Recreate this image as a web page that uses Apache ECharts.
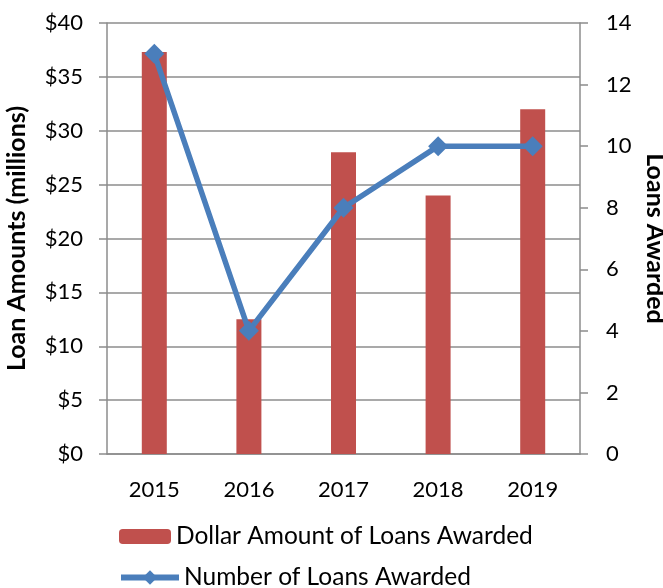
<!DOCTYPE html>
<html>
<head>
<meta charset="utf-8">
<script src="https://cdn.jsdelivr.net/npm/echarts@6/dist/echarts.min.js"></script>
<style>
  html, body { margin: 0; padding: 0; background: #fff; }
  #main { width: 663px; height: 588px; }
</style>
</head>
<body>
<div id="main"></div>
<script>
// data
var years = ['2015', '2016', '2017', '2018', '2019'];
var dollarAmounts = [37.3, 12.5, 28, 24, 32];   // millions
var loanCounts = [13, 4, 8, 10, 10];
var barName = 'Dollar Amount of Loans Awarded';
var lineName = 'Number of Loans Awarded';

var chart = echarts.init(document.getElementById('main'));

var font = 'Lato, "Liberation Sans", sans-serif';
var gridColor = '#8c8c8c';
var blue = '#4A7EBB';
var legendText = { fontSize: 24.5, color: '#000', fontFamily: font };

var option = {
    animation: false,
    textStyle: { fontFamily: font, color: '#000' },
    grid: { left: 107, right: 83, top: 23, bottom: 134, outerBoundsMode: 'none', containLabel: false },
    legend: [
        {
            left: 114, top: 519,
            itemWidth: 52, itemHeight: 15,
            textStyle: legendText,
            data: [barName]
        },
        {
            left: 113, top: 560,
            itemWidth: 58, itemHeight: 18,
            textStyle: legendText,
            lineStyle: { width: 6 },
            data: [lineName]
        }
    ],
    xAxis: {
        type: 'category',
        data: years,
        axisLine: { lineStyle: { color: gridColor, width: 1.5 } },
        axisTick: { show: false },
        axisLabel: { fontSize: 22, color: '#000', margin: 25 }
    },
    yAxis: [
        {
            type: 'value',
            min: 0, max: 40, interval: 5,
            name: 'Loan Amounts (millions)',
            nameLocation: 'middle',
            nameRotate: 90,
            nameGap: 78,
            nameTextStyle: { fontSize: 25, fontWeight: 'bold', color: '#000' },
            axisLine: { show: true, lineStyle: { color: gridColor, width: 1.5 } },
            axisTick: { show: true, length: 8, lineStyle: { color: gridColor, width: 1.5 } },
            splitLine: { lineStyle: { color: gridColor, width: 1.5 } },
            axisLabel: {
                fontSize: 22, color: '#000', margin: 24,
                formatter: function (v) { return '$' + v; }
            }
        },
        {
            type: 'value',
            min: 0, max: 14, interval: 2,
            position: 'right',
            name: 'Loans Awarded',
            nameLocation: 'middle',
            nameRotate: -90,
            nameGap: 57,
            nameTextStyle: { fontSize: 25, fontWeight: 'bold', color: '#000' },
            axisLine: { show: true, lineStyle: { color: gridColor, width: 1.5 } },
            axisTick: { show: true, length: 8, lineStyle: { color: gridColor, width: 1.5 } },
            splitLine: { show: false },
            axisLabel: { fontSize: 22, color: '#000', margin: 26 }
        }
    ],
    series: [
        {
            name: barName,
            type: 'bar',
            yAxisIndex: 0,
            barWidth: 25,
            data: dollarAmounts,
            itemStyle: { color: '#C0504D' }
        },
        {
            name: lineName,
            type: 'line',
            yAxisIndex: 1,
            data: loanCounts,
            symbol: 'diamond',
            symbolSize: 20,
            lineStyle: { color: blue, width: 5.5 },
            itemStyle: { color: blue }
        }
    ]
};

chart.setOption(option);
</script>
</body>
</html>
